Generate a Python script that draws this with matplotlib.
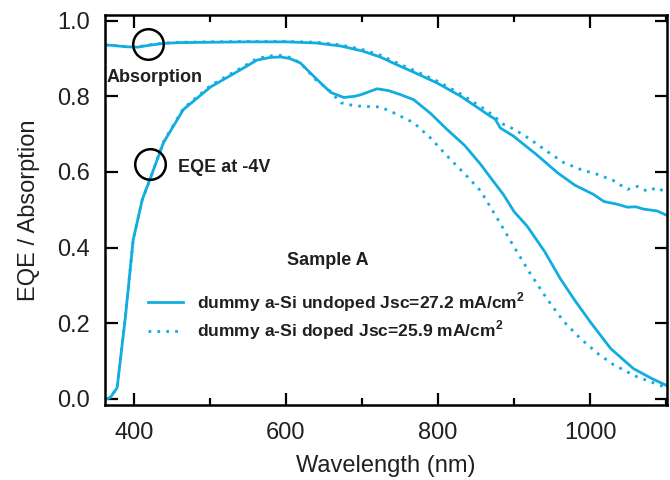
import matplotlib
matplotlib.use("Agg")
import matplotlib.pyplot as plt
from matplotlib.ticker import MultipleLocator

plt.rcParams['font.family'] = ['Liberation Sans', 'DejaVu Sans']
plt.rcParams['mathtext.fontset'] = 'custom'
plt.rcParams['mathtext.rm'] = 'Liberation Sans'
plt.rcParams['mathtext.bf'] = 'Liberation Sans:bold'

TXT = '#231f20'
BLUE = '#12ade0'

# Absorption, undoped (solid)
abs_u_wl = [362, 375, 390, 405, 420, 440, 460, 500, 550, 600, 640, 672, 700, 724, 741, 770,
            799, 830, 869, 875, 882, 899, 930, 957, 980, 1004, 1018, 1035, 1049, 1060, 1070, 1088, 1100]
abs_u = [0.936, 0.934, 0.931, 0.930, 0.935, 0.940, 0.942, 0.943, 0.944, 0.944, 0.941, 0.933, 0.920,
         0.904, 0.888, 0.862, 0.835, 0.800, 0.747, 0.740, 0.716, 0.695, 0.645, 0.598, 0.565, 0.541,
         0.522, 0.515, 0.507, 0.508, 0.502, 0.497, 0.486]

# Absorption, doped (dotted)
abs_d_wl = [362, 375, 390, 405, 420, 440, 460, 500, 550, 600, 640, 672, 700, 724, 741, 770,
            799, 830, 862, 875, 886, 900, 920, 943, 965, 987, 1009, 1030, 1049, 1062, 1075, 1088, 1100]
abs_d = [0.936, 0.934, 0.931, 0.931, 0.936, 0.941, 0.943, 0.944, 0.945, 0.945, 0.943, 0.936, 0.924,
         0.909, 0.893, 0.867, 0.840, 0.806, 0.765, 0.745, 0.726, 0.713, 0.688, 0.655, 0.625, 0.607,
         0.594, 0.578, 0.554, 0.562, 0.549, 0.559, 0.545]

# EQE at -4V, undoped (solid)
eqe_u_wl = [364, 369, 378, 389, 399, 411, 421, 439, 465, 501, 540, 562, 580, 593, 605, 619, 641,
            659, 676, 690, 698, 720, 735, 750, 768, 790, 812, 835, 856, 869, 886, 900, 917, 940,
            961, 980, 1000, 1027, 1057, 1080, 1100]
eqe_u = [0.0, 0.004, 0.03, 0.22, 0.42, 0.527, 0.58, 0.678, 0.765, 0.825, 0.870, 0.896, 0.903, 0.904,
         0.900, 0.888, 0.844, 0.810, 0.797, 0.800, 0.804, 0.820, 0.815, 0.805, 0.791, 0.755, 0.712,
         0.670, 0.620, 0.585, 0.540, 0.495, 0.457, 0.390, 0.317, 0.260, 0.204, 0.133, 0.080, 0.055,
         0.036]

# EQE at -4V, doped (dotted)
eqe_d_wl = [364, 369, 378, 389, 399, 411, 421, 439, 465, 501, 540, 562, 580, 593, 605, 619, 641,
            655, 672, 690, 707, 724, 741, 768, 790, 812, 835, 856, 880, 899, 920, 943, 965, 987,
            1010, 1031, 1060, 1080, 1100]
eqe_d = [0.0, 0.004, 0.03, 0.22, 0.42, 0.527, 0.58, 0.680, 0.768, 0.829, 0.874, 0.900, 0.907, 0.908,
         0.903, 0.888, 0.840, 0.820, 0.783, 0.775, 0.773, 0.772, 0.757, 0.730, 0.690, 0.642, 0.595,
         0.550, 0.470, 0.405, 0.335, 0.265, 0.205, 0.160, 0.120, 0.090, 0.060, 0.045, 0.030]

labels = ['dummy a-Si undoped Jsc=27.2 mA/cm$^\\mathbf{2}$',
          'dummy a-Si doped Jsc=25.9 mA/cm$^\\mathbf{2}$']

fig = plt.figure(figsize=(6.7, 4.8), dpi=100)
ax = fig.add_axes([105/670, 1 - 405/480, 562/670, 390/480])

lw = 2.0
l1, = ax.plot(eqe_u_wl, eqe_u, color=BLUE, lw=lw, solid_joinstyle='round')
ax.plot(abs_u_wl, abs_u, color=BLUE, lw=lw, solid_joinstyle='round')
l2, = ax.plot(eqe_d_wl, eqe_d, color=BLUE, lw=lw, linestyle=(0, (1, 2.2)))
ax.plot(abs_d_wl, abs_d, color=BLUE, lw=lw, linestyle=(0, (1, 2.2)))

# annotation circles
ax.plot([419], [0.939], marker='o', ms=22, mfc='none', mec='black', mew=1.8, clip_on=False)
ax.plot([421.5], [0.62], marker='o', ms=22, mfc='none', mec='black', mew=1.8, clip_on=False)

ax.text(363.5, 0.851, 'Absorption', fontsize=13, fontweight='bold', color=TXT, ha='left', va='center')
ax.text(458, 0.612, 'EQE at -4V', fontsize=13, fontweight='bold', color=TXT, ha='left', va='center')
ax.text(654.6, 0.365, 'Sample A', fontsize=13, fontweight='bold', color=TXT, ha='center', va='center')

leg = ax.legend([l1, l2], labels, loc='upper left', bbox_to_anchor=(148/670, 1 - 290/480),
                bbox_transform=fig.transFigure, frameon=False, borderpad=0, borderaxespad=0,
                handlelength=2.0, handletextpad=0.8, labelspacing=0.3,
                prop={'weight': 'bold', 'size': 12.6})
for t in leg.get_texts():
    t.set_color(TXT)

ax.set_xlim(362, 1101)
ax.set_ylim(-0.016, 1.015)
ax.xaxis.set_major_locator(MultipleLocator(200))
ax.xaxis.set_minor_locator(MultipleLocator(100))
ax.set_yticks([0.0, 0.2, 0.4, 0.6, 0.8, 1.0])
ax.set_yticklabels(['0.0', '0.2', '0.4', '0.6', '0.8', '1.0'])

ax.tick_params(which='major', direction='in', length=9, width=1.6, top=True, right=True,
               labelsize=17, labelcolor=TXT)
ax.tick_params(axis='x', which='major', pad=12)
ax.tick_params(axis='y', which='major', pad=11)
ax.tick_params(which='minor', direction='in', length=5, width=1.6, top=True, right=True)
for s in ax.spines.values():
    s.set_linewidth(1.8)

ax.set_xlabel('Wavelength (nm)', fontsize=17, color=TXT, labelpad=8)
ax.set_ylabel('EQE / Absorption', fontsize=17, color=TXT, labelpad=12)

fig.savefig('out.png', dpi=100)
